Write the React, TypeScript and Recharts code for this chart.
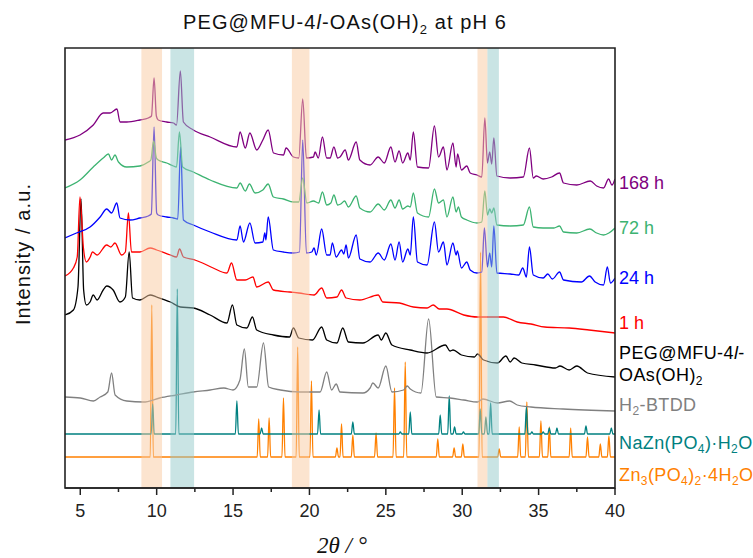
import React from 'react';
import { LineChart, Line, XAxis, YAxis, ReferenceArea } from 'recharts';

type Pt = [number, number];

const xTicks = [5, 7.5, 10, 12.5, 15, 17.5, 20, 22.5, 25, 27.5, 30, 32.5, 35, 37.5, 40];

const pattern168h: Pt[] = [[4.0,348],[4.98,353],[5.85,363],[6.5,375],[6.95,375],[7.4,379],[7.6,366],[8.04,366],[8.9,368],[9.45,370],[9.66,372],[9.83,410],[9.98,372],[10.1,368],[10.66,366],[11.1,365],[11.3,363],[11.55,417],[11.75,366],[12.4,358],[13.5,351],[15.25,341],[15.46,356],[15.8,340],[16.1,355],[16.55,338],[16.95,348],[17.3,358],[17.65,335],[18.3,333],[18.47,340],[18.95,331],[19.3,330],[19.56,389],[19.8,330],[20.26,331],[20.37,336],[20.58,330],[20.85,351],[21.13,330],[21.35,330],[21.6,341],[21.85,330],[22.0,331],[22.34,338],[22.55,328],[23.06,346],[23.3,328],[23.97,323],[24.5,331],[24.9,325],[25.33,341],[25.6,326],[25.87,337],[26.1,325],[26.44,335],[26.6,328],[26.8,356],[27.07,321],[27.8,320],[28.18,362],[28.45,331],[28.77,341],[29.0,318],[29.39,345],[29.6,321],[29.7,334],[29.95,318],[30.3,322],[30.52,315],[30.96,313],[31.28,311],[31.48,370],[31.65,325],[31.8,336],[31.93,324],[32.07,350],[32.27,312],[33.14,310],[34.0,311],[34.4,340],[34.65,310],[34.85,312],[35.3,309],[35.85,311],[36.37,315],[36.63,305],[37.5,303],[38.38,307],[38.8,302],[39.25,300],[39.58,309],[39.8,303],[40.0,309]];

const pattern72h: Pt[] = [[4.0,300],[4.98,308],[5.85,321],[6.5,330],[6.84,334],[7.05,328],[7.27,333],[7.5,326],[8.04,321],[8.9,322],[9.45,326],[9.62,328],[9.8,347],[9.98,330],[10.1,328],[10.66,325],[11.1,322],[11.3,321],[11.49,356],[11.7,321],[12.4,316],[13.5,308],[15.25,300],[15.46,305],[15.8,297],[16.07,304],[16.44,295],[16.95,298],[17.3,304],[17.64,291],[18.3,289],[18.95,286],[19.3,286],[19.56,310],[19.83,285],[20.26,287],[20.6,285],[20.85,296],[21.13,283],[21.4,285],[21.6,293],[21.85,283],[22.05,284],[22.3,287],[22.55,281],[23.06,292],[23.3,280],[23.97,276],[24.5,284],[24.9,278],[25.33,288],[25.6,280],[25.87,288],[26.1,279],[26.44,282],[26.6,281],[26.8,295],[27.07,275],[27.8,271],[28.18,299],[28.45,285],[28.77,288],[29.0,271],[29.39,291],[29.6,276],[29.75,281],[29.95,271],[30.3,268],[30.96,265],[31.28,266],[31.48,297],[31.65,273],[31.8,279],[31.93,275],[32.07,280],[32.27,263],[33.14,262],[34.0,263],[34.4,281],[34.65,261],[35.3,260],[36.0,260],[36.37,262],[36.63,256],[37.5,255],[38.35,259],[38.8,255],[39.25,253],[39.6,255],[40.0,260]];

const pattern24h: Pt[] = [[4.0,250],[4.75,255],[5.64,261],[6.3,271],[6.73,279],[7.05,275],[7.39,285],[7.6,270],[8.26,268],[8.9,270],[9.45,272],[9.65,274],[9.83,361],[10.0,275],[10.1,273],[10.66,271],[11.1,270],[11.38,269],[11.57,341],[11.75,268],[12.4,263],[13.5,256],[15.25,248],[15.46,262],[15.68,246],[16.1,265],[16.44,245],[16.95,246],[17.08,255],[17.15,248],[17.3,271],[17.64,238],[18.3,236],[18.95,235],[19.35,236],[19.56,348],[19.8,235],[20.15,236],[20.3,240],[20.45,233],[20.8,259],[21.13,233],[21.35,233],[21.5,245],[21.75,231],[22.1,238],[22.25,234],[22.4,243],[22.55,230],[23.06,253],[23.3,229],[23.97,226],[24.5,235],[24.9,228],[25.33,244],[25.6,228],[25.87,246],[26.1,226],[26.44,239],[26.6,233],[26.8,271],[27.07,226],[27.7,223],[28.18,266],[28.45,236],[28.77,246],[29.0,223],[29.39,245],[29.6,233],[29.68,237],[29.95,220],[30.3,226],[30.52,218],[30.96,215],[31.28,216],[31.45,260],[31.65,221],[31.8,235],[31.93,221],[32.07,262],[32.27,215],[33.14,214],[33.7,213],[33.96,220],[34.2,211],[34.4,241],[34.65,213],[35.3,210],[35.6,214],[35.9,209],[36.37,216],[36.63,208],[37.8,206],[38.33,212],[38.7,206],[39.25,203],[39.5,221],[39.7,205],[40.0,210]];

const pattern1h: Pt[] = [[4.0,212],[4.55,220],[4.8,231],[4.98,291],[5.2,241],[5.4,226],[5.65,231],[5.8,236],[6.1,233],[6.73,243],[7.0,241],[7.27,245],[7.7,233],[7.95,236],[8.15,275],[8.35,236],[8.9,236],[9.57,240],[10.0,238],[10.9,233],[11.3,231],[11.5,239],[11.75,231],[12.5,228],[13.0,225],[13.7,220],[14.6,215],[14.9,225],[15.25,208],[15.8,208],[16.3,211],[16.55,201],[17.3,206],[17.64,198],[18.7,196],[19.3,195],[20.3,193],[20.8,200],[21.13,190],[21.8,191],[22.1,198],[22.4,190],[23.3,188],[24.5,193],[24.8,186],[25.9,185],[26.8,181],[27.7,180],[28.1,183],[28.5,179],[29.0,179],[30.1,173],[31.0,171],[31.9,171],[32.7,171],[33.6,166],[34.5,164],[35.4,161],[37.0,160],[38.3,158],[40.0,155]];

const patternPEG: Pt[] = [[4.0,173],[4.55,178],[4.85,201],[5.05,289],[5.22,198],[5.4,183],[5.64,186],[5.85,193],[6.1,188],[6.5,198],[6.73,202],[7.15,198],[7.6,186],[7.95,191],[8.2,236],[8.42,190],[8.9,188],[9.57,193],[10.0,191],[10.9,186],[11.55,181],[12.4,180],[13.5,173],[14.6,165],[14.96,183],[15.25,163],[15.9,160],[16.27,171],[16.55,158],[17.64,153],[18.7,151],[18.95,160],[19.3,150],[20.2,148],[20.8,161],[21.13,148],[21.8,145],[22.18,160],[22.55,146],[23.5,145],[24.5,153],[24.7,148],[25.0,155],[25.4,143],[26.6,138],[27.7,135],[28.9,143],[29.2,137],[29.4,138],[29.95,133],[30.8,131],[31.0,134],[31.4,128],[32.3,125],[32.86,132],[33.14,126],[33.4,130],[33.9,125],[34.8,123],[36.1,120],[36.4,122],[37.0,118],[37.5,122],[38.2,115],[40.0,111]];

const patternBTDD: Pt[] = [[4.0,91],[5.0,90],[5.86,87],[6.3,91],[6.8,96],[7.05,115],[7.28,93],[8.04,87],[9.13,86],[10.2,90],[11.3,93],[12.4,96],[13.5,98],[14.4,100],[15.0,98],[15.45,108],[15.74,139],[16.0,101],[16.55,101],[16.99,145],[17.33,101],[18.1,98],[19.4,96],[20.7,96],[21.13,116],[21.45,98],[21.75,104],[22.0,96],[23.5,95],[23.97,100],[24.15,105],[24.5,100],[25.0,122],[25.4,96],[26.16,98],[26.4,102],[26.6,99],[27.3,95],[27.8,169],[28.3,91],[29.2,90],[30.1,88],[31.0,86],[31.35,89],[32.3,85],[33.1,87],[33.6,83],[34.5,81],[36.6,79],[40.0,77]];

const naZnBaseline = 54;
const naZnPeaks: Pt[] = [[9.74,84],[11.35,199],[15.25,87],[16.87,60],[20.63,78],[22.84,66],[25.95,56],[26.6,76],[28.56,73],[29.15,92],[29.5,61],[30.08,56],[31.18,79],[31.55,71],[31.86,85],[34.2,81],[34.56,56],[35.3,56],[35.7,60],[36.2,60],[38.1,62],[39.76,60]];

const zn3Baseline = 31;
const zn3Peaks: Pt[] = [[9.68,183],[16.68,69],[17.36,70],[18.3,90],[19.23,141],[20.13,107],[21.8,40],[22.1,64],[22.84,53],[24.36,55],[25.57,100],[26.27,126],[28.4,49],[29.47,40],[30.04,44],[31.2,236],[32.42,39],[33.73,61],[34.23,86],[35.15,67],[35.7,61],[37.1,60],[38.2,51],[39.04,44],[39.6,52]];

const orangeBands: Pt[] = [[9.0, 10.35], [18.85, 20.0], [31.0, 31.65]];
const tealBands: Pt[] = [[10.9, 12.45], [31.65, 32.4]];

const STICK_HALF = 0.1;

const rows = (pts: Pt[]) => pts.map(([x, y]) => ({ x, y }));
const stickRows = (base: number, peaks: Pt[]) => {
  const out: { x: number; y: number }[] = [{ x: 4, y: base }];
  peaks.forEach(([p, h]) => {
    out.push({ x: p - STICK_HALF, y: base });
    out.push({ x: p, y: h });
    out.push({ x: p + STICK_HALF, y: base });
  });
  out.push({ x: 40, y: base });
  return out;
};

const series = [
  { name: 'Zn3', data: stickRows(zn3Baseline, zn3Peaks), color: '#ff8000' },
  { name: 'NaZn', data: stickRows(naZnBaseline, naZnPeaks), color: '#008080' },
  { name: 'BTDD', data: rows(patternBTDD), color: '#808080' },
  { name: 'PEG', data: rows(patternPEG), color: '#000000' },
  { name: '1h', data: rows(pattern1h), color: '#ff0000' },
  { name: '24h', data: rows(pattern24h), color: '#0000ff' },
  { name: '72h', data: rows(pattern72h), color: '#3cb371' },
  { name: '168h', data: rows(pattern168h), color: '#800080' },
];

const FONT = "Arial, 'Liberation Sans', Helvetica, sans-serif";

const Tick = (props: any) => {
  const { x, y, payload } = props;
  const v = payload.value as number;
  const major = v % 5 === 0;
  return (
    <g>
      <line x1={x} x2={x} y1={y} y2={y + (major ? 7 : 4)} stroke="#222" strokeWidth={1.5} />
      {major && (
        <text x={x} y={y + 29} textAnchor="middle" fontFamily={FONT} fontSize={18} fill="#222">
          {v}
        </text>
      )}
    </g>
  );
};

export default function App() {
  return (
    <div style={{ position: 'absolute', left: 0, top: 0, width: 753, height: 558, background: '#fff' }}>
      <LineChart width={753} height={558} margin={{ top: 48, right: 138, bottom: 40, left: 65 }}>
        <XAxis
          dataKey="x"
          type="number"
          domain={[4, 40]}
          ticks={xTicks}
          interval={0}
          allowDataOverflow
          height={30}
          tickSize={0}
          tickMargin={0}
          tickLine={false}
          tick={<Tick />}
          axisLine={{ stroke: '#222', strokeWidth: 1.6 }}
        />
        <YAxis type="number" domain={[0, 440]} hide width={0} allowDataOverflow />
        {series.map((s) => (
          <Line
            key={s.name}
            data={s.data}
            dataKey="y"
            type="monotoneX"
            stroke={s.color}
            strokeWidth={1.3}
            dot={false}
            activeDot={false}
            isAnimationActive={false}
          />
        ))}
        {orangeBands.map(([a, b], i) => (
          <ReferenceArea key={'o' + i} x1={a} x2={b} y1={0} y2={440} fill="#f9c99f" fillOpacity={0.5} stroke="none" zIndex={450} />
        ))}
        {tealBands.map(([a, b], i) => (
          <ReferenceArea key={'t' + i} x1={a} x2={b} y1={0} y2={440} fill="#93c9c9" fillOpacity={0.5} stroke="none" zIndex={450} />
        ))}
        <ReferenceArea x1={4} x2={40} y1={0} y2={440} fill="none" stroke="#222" strokeWidth={1.6} zIndex={460} />
      </LineChart>
      <svg width={753} height={558} style={{ position: 'absolute', left: 0, top: 0, pointerEvents: 'none' }}>
        <text x={183} y={29} fontFamily={FONT} fontSize={20} letterSpacing={1.1} fill="#111">
          PEG@MFU-4<tspan fontStyle="italic">l</tspan>-OAs(OH)<tspan fontSize={13} dy={5}>2</tspan>
          <tspan dy={-5}> at pH 6</tspan>
        </text>
        <text
          transform="translate(30,254) rotate(-90)"
          textAnchor="middle"
          fontFamily={FONT}
          fontSize={20}
          letterSpacing={1.1}
          fill="#111"
        >
          Intensity / a.u.
        </text>
        <text x={342} y={553} textAnchor="middle" fontFamily="'Liberation Serif', 'Times New Roman', serif" fontStyle="italic" fontSize={23} fill="#111">
          2θ / °
        </text>
        <g fontFamily={FONT} fontSize={18}>
          <text x={619} y={189} fill="#800080">168 h</text>
          <text x={619} y={234} fill="#3cb371">72 h</text>
          <text x={619} y={284} fill="#0000ff">24 h</text>
          <text x={619} y={329} fill="#ff0000">1 h</text>
          <text x={619} y={359} fill="#000" letterSpacing={0.4}>
            PEG@MFU-4<tspan fontStyle="italic">l</tspan>-
          </text>
          <text x={619} y={381} fill="#000" letterSpacing={0.4}>
            OAs(OH)<tspan fontSize={12} dy={4}>2</tspan>
          </text>
          <text x={619} y={411} fill="#808080" letterSpacing={0.4}>
            H<tspan fontSize={12} dy={4}>2</tspan><tspan dy={-4}>-BTDD</tspan>
          </text>
          <text x={619} y={449} fill="#008080" letterSpacing={0.4}>
            NaZn(PO<tspan fontSize={12} dy={4}>4</tspan><tspan dy={-4}>)·H</tspan><tspan fontSize={12} dy={4}>2</tspan><tspan dy={-4}>O</tspan>
          </text>
          <text x={619} y={481} fill="#ff8000" letterSpacing={0.4}>
            Zn<tspan fontSize={12} dy={4}>3</tspan><tspan dy={-4}>(PO</tspan><tspan fontSize={12} dy={4}>4</tspan><tspan dy={-4}>)</tspan><tspan fontSize={12} dy={4}>2</tspan><tspan dy={-4}>·4H</tspan><tspan fontSize={12} dy={4}>2</tspan><tspan dy={-4}>O</tspan>
          </text>
        </g>
      </svg>
    </div>
  );
}
